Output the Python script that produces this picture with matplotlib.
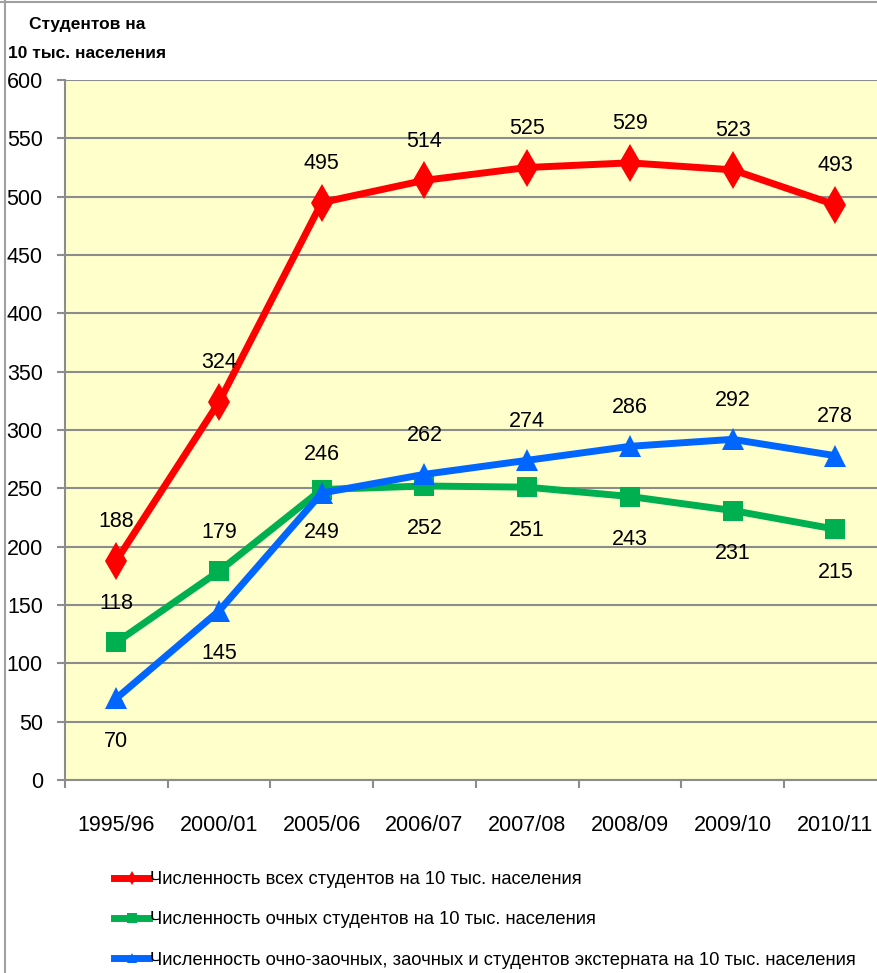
import matplotlib
matplotlib.use("Agg")
import matplotlib.pyplot as plt
from matplotlib.lines import Line2D

plt.rcParams['font.family'] = ["Liberation Sans", "DejaVu Sans"]

categories = ["1995/96", "2000/01", "2005/06", "2006/07", "2007/08", "2008/09", "2009/10", "2010/11"]
total = [188, 324, 495, 514, 525, 529, 523, 493]
fulltime = [118, 179, 249, 252, 251, 243, 231, 215]
other = [70, 145, 246, 262, 274, 286, 292, 278]
# label placement: +1 above, -1 below
total_pos = [1, 1, 1, 1, 1, 1, 1, 1]
fulltime_pos = [1, 1, -1, -1, -1, -1, -1, -1]
other_pos = [-1, -1, 1, 1, 1, 1, 1, 1]

labels = ["Численность всех студентов на 10 тыс. населения",
          "Численность очных студентов на 10 тыс. населения",
          "Численность очно-заочных, заочных и студентов экстерната на 10 тыс. населения"]
colors = ["#FF0000", "#00B050", "#0066FF"]
markers = ["d", "s", "^"]
msizes = [19, 14, 15.5]

W, H = 877, 973
fig = plt.figure(figsize=(W / 100, H / 100), dpi=100)
ax = fig.add_axes([65 / W, (H - 780) / H, 821.6 / W, 700 / H])
ax.set_facecolor("#FFFFCC")

x = list(range(len(categories)))
series = [total, fulltime, other]
poss = [total_pos, fulltime_pos, other_pos]
for vals, pos, c, m, ms in zip(series, poss, colors, markers, msizes):
    ax.plot(x, vals, color=c, lw=5, marker=m, markersize=ms, markeredgewidth=0,
            zorder=3, clip_on=False)
    for xi, v, p in zip(x, vals, pos):
        off = 39 if p > 0 else -43
        ax.annotate(str(v), (xi, v), xytext=(0, off), textcoords="offset pixels",
                    ha="center", va="center", fontsize=15.5, color="black", zorder=4)

ax.set_xlim(-0.5, len(categories) - 0.5)
ax.set_ylim(0, 600)
ax.set_yticks(range(0, 601, 50))
ax.yaxis.grid(True, color="#8C8C8C", lw=1.5)
ax.set_axisbelow(True)
ax.set_xticks([i - 0.5 for i in range(len(categories))], minor=False)
ax.set_xticklabels([])
ax.set_xticks(x, minor=True)
ax.set_xticklabels(categories, minor=True, fontsize=15.5)
ax.tick_params(axis="x", which="major", length=6, width=1.5, color="#8C8C8C", direction="out")
ax.tick_params(axis="x", which="minor", length=0, pad=25)
ax.tick_params(axis="y", length=6, width=1.5, color="#8C8C8C", direction="out", labelsize=15.5, pad=10)
for s in ["top", "right"]:
    ax.spines[s].set_visible(False)
for s in ["left", "bottom"]:
    ax.spines[s].set_color("#8C8C8C")
    ax.spines[s].set_linewidth(1.5)

fig.text(87 / W, 1 - 24 / H, "Студентов на", ha="center", va="center", fontsize=12.5, fontweight="bold")
fig.text(87 / W, 1 - 54 / H, "10 тыс. населения", ha="center", va="center", fontsize=12.5, fontweight="bold")

handles = [Line2D([], [], color=c, lw=5, marker=m, markersize=7, markeredgewidth=0)
           for c, m in zip(colors, markers)]
fig.legend(handles, labels, loc="upper left", bbox_to_anchor=(105 / W, 1 - 862 / H),
           frameon=False, fontsize=13.2, handlelength=1.9, handletextpad=0.05,
           labelspacing=1.27, borderpad=0)

fig.add_artist(Line2D([5 / W, 5 / W], [0, 1], color="#A0A0A0", lw=1.5, transform=fig.transFigure))
fig.add_artist(Line2D([0, 1], [1 - 1.5 / H, 1 - 1.5 / H], color="#A0A0A0", lw=1.5, transform=fig.transFigure))

fig.savefig("out.png", dpi=100)
